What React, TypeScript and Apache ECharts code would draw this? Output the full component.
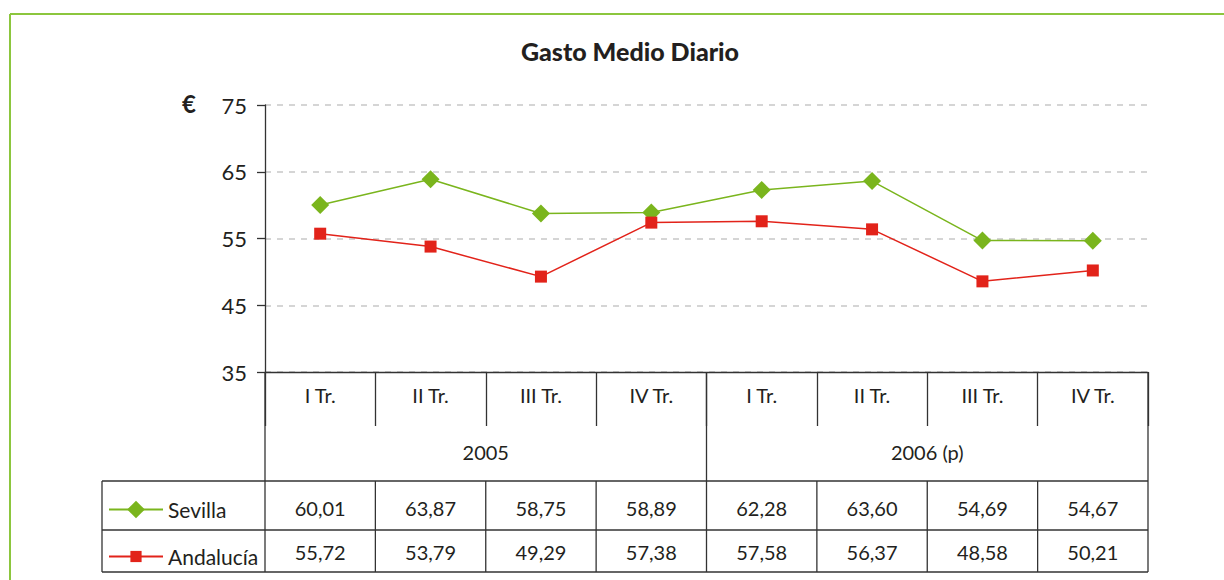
import React, { useEffect, useRef } from "react";
import * as echarts from "echarts";

const title = "Gasto Medio Diario";
const categories = ["I Tr.", "II Tr.", "III Tr.", "IV Tr.", "I Tr.", "II Tr.", "III Tr.", "IV Tr."];
const years = ["2005", "2006 (p)"];
const quartersPerYear = 4;
const sevilla = [60.01, 63.87, 58.75, 58.89, 62.28, 63.6, 54.69, 54.67];
const andalucia = [55.72, 53.79, 49.29, 57.38, 57.58, 56.37, 48.58, 50.21];
const seriesNames = ["Sevilla", "Andalucía"];
const yMin = 35;
const yMax = 75;
const yInterval = 10;
const unit = "€";

const FONT = "Lato, 'Open Sans', sans-serif";
const INK = "#231f20";
const GREEN = "#7ab51d";
const RED = "#e2231a";
const LINE = "#333333";

const GRID = { left: 265, right: 76, top: 105, bottom: 208 };
const TABLE_LEFT = 102;
const ROW_Y = { cat: 372, catEnd: 426, year: 481, s1: 530, s2: 572 };

const fmt = (v: number) => v.toFixed(2).replace(".", ",");

export default function App() {
  const ref = useRef<HTMLDivElement>(null);
  useEffect(() => {
    if (!ref.current) return;
    const chart = echarts.init(ref.current, null, { renderer: "svg" });
    chart.setOption({
      animation: false,
      backgroundColor: "#ffffff",
      title: {
        text: title,
        left: 625,
        textAlign: "center",
        top: 33,
        textStyle: { fontFamily: FONT, fontWeight: 900, fontSize: 25, color: INK },
      },
      grid: { ...GRID, containLabel: false },
      legend: [
        {
          data: [seriesNames[0]],
          left: 108,
          top: 499,
          padding: 0,
          itemWidth: 54,
          itemHeight: 22,
          itemGap: 5,
          textStyle: { fontFamily: FONT, fontSize: 21, color: INK },
        },
        {
          data: [seriesNames[1]],
          left: 108,
          top: 546,
          padding: 0,
          itemWidth: 54,
          itemHeight: 14,
          itemGap: 5,
          textStyle: { fontFamily: FONT, fontSize: 21, color: INK },
        },
      ],
      xAxis: {
        type: "category",
        data: categories,
        boundaryGap: true,
        axisLine: { show: true, lineStyle: { color: LINE, width: 1.3 } },
        axisTick: { show: true, length: ROW_Y.catEnd - ROW_Y.cat, lineStyle: { color: LINE, width: 1.3 } },
        axisLabel: { margin: 13, fontFamily: FONT, fontSize: 20, color: INK },
        splitLine: { show: false },
      },
      yAxis: {
        type: "value",
        min: yMin,
        max: yMax,
        interval: yInterval,
        axisLine: { show: true, lineStyle: { color: LINE, width: 1.3 } },
        axisTick: { show: true, length: 8, lineStyle: { color: LINE, width: 1.3 } },
        axisLabel: { margin: 18, fontFamily: FONT, fontSize: 22, color: INK },
        splitLine: { show: true, lineStyle: { color: "#c8c8c8", type: [6, 6], width: 1.5 } },
      },
      series: [
        {
          name: seriesNames[0],
          type: "line",
          data: sevilla,
          symbol: "diamond",
          symbolSize: 18,
          lineStyle: { color: GREEN, width: 1.5 },
          itemStyle: { color: GREEN },
        },
        {
          name: seriesNames[1],
          type: "line",
          data: andalucia,
          symbol: "rect",
          symbolSize: 12,
          lineStyle: { color: RED, width: 1.5 },
          itemStyle: { color: RED },
        },
      ],
    });

    const centers = categories.map((_, i) => chart.convertToPixel({ xAxisIndex: 0 }, i) as number);
    const half = (centers[1] - centers[0]) / 2;
    const right = centers[centers.length - 1] + half;
    const left = centers[0] - half;
    const g: any[] = [];
    const ln = (x1: number, y1: number, x2: number, y2: number) =>
      g.push({ type: "line", shape: { x1, y1, x2, y2 }, style: { stroke: LINE, lineWidth: 1.3 } });
    const txt = (x: number, y: number, text: string, size: number, weight: any = "normal") =>
      g.push({
        type: "text",
        x,
        y,
        style: { text, fontFamily: FONT, fontSize: size, fontWeight: weight, fill: INK, align: "center", verticalAlign: "middle" },
      });

    // decorative frame lines
    g.push({ type: "line", shape: { x1: 10, y1: 14, x2: 1224, y2: 14 }, style: { stroke: "#8cc63e", lineWidth: 2 } });
    g.push({ type: "line", shape: { x1: 10, y1: 14, x2: 10, y2: 580 }, style: { stroke: "#8cc63e", lineWidth: 2 } });

    // unit label
    txt(189, 103, unit, 24, "bold");

    // table grid
    ln(TABLE_LEFT, ROW_Y.year, right, ROW_Y.year);
    ln(TABLE_LEFT, ROW_Y.s1, right, ROW_Y.s1);
    ln(TABLE_LEFT, ROW_Y.s2, right, ROW_Y.s2);
    ln(TABLE_LEFT, ROW_Y.year, TABLE_LEFT, ROW_Y.s2);
    ln(left, ROW_Y.cat, left, ROW_Y.s2);
    ln(right, ROW_Y.cat, right, ROW_Y.s2);
    for (let i = 1; i < categories.length; i++) {
      const x = centers[i] - half;
      if (i % quartersPerYear === 0) ln(x, ROW_Y.cat, x, ROW_Y.s2);
      else ln(x, ROW_Y.year, x, ROW_Y.s2);
    }
    // year labels
    years.forEach((y, k) => {
      const a = centers[k * quartersPerYear] - half;
      const b = centers[k * quartersPerYear + quartersPerYear - 1] + half;
      txt((a + b) / 2, 452, y, 20);
    });
    // values
    sevilla.forEach((v, i) => txt(centers[i], 508, fmt(v), 20));
    andalucia.forEach((v, i) => txt(centers[i], 552, fmt(v), 20));

    chart.setOption({ graphic: g });
    return () => chart.dispose();
  }, []);
  return <div ref={ref} style={{ position: "fixed", left: 0, top: 0, width: 1224, height: 580 }} />;
}
